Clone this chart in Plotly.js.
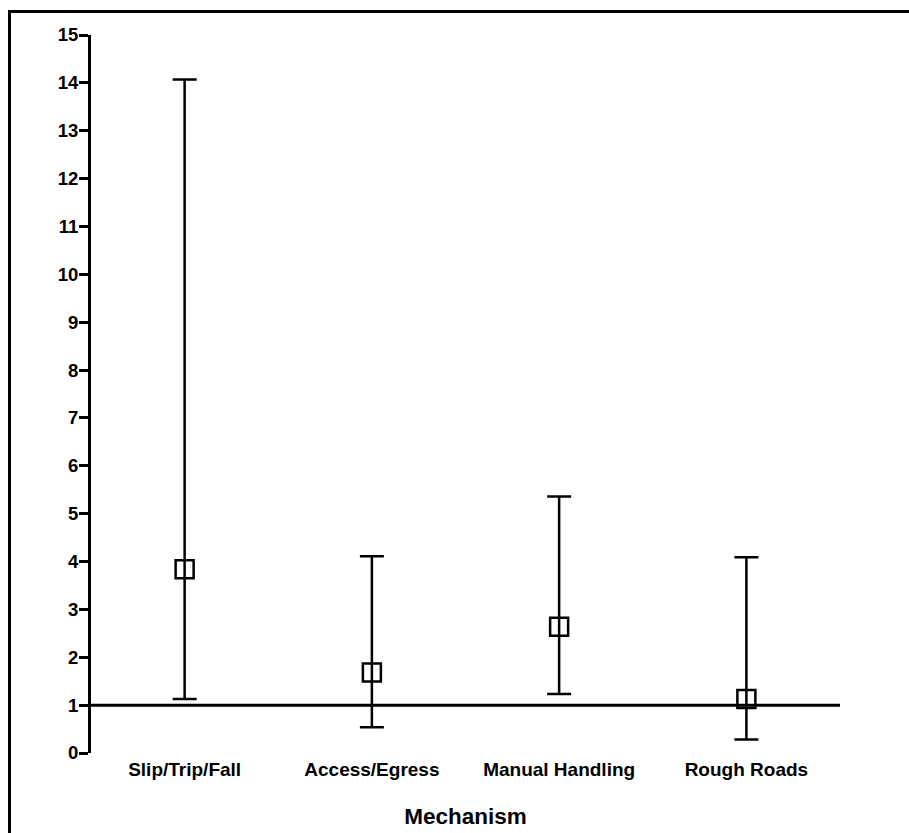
<!DOCTYPE html>
<html>
<head>
<meta charset="utf-8">
<script src="https://cdn.plot.ly/plotly-3.0.1.min.js"></script>
<style>
  html, body { margin: 0; padding: 0; background: #fff; }
  #wrap { position: relative; width: 909px; height: 833px; }
  #chart { position: absolute; left: 0; top: 0; width: 909px; height: 833px; }
  #frame { position: absolute; left: 8px; top: 10px; width: 920px; height: 840px;
           border-left: 3px solid #000; border-top: 3px solid #000; pointer-events: none; }
</style>
</head>
<body>
<div id="wrap">
  <div id="chart"></div>
  <div id="frame"></div>
</div>
<script>
const categories = ["Slip/Trip/Fall", "Access/Egress", "Manual Handling", "Rough Roads"];
const estimates  = [3.84, 1.68, 2.64, 1.13];
const lowerCI    = [1.13, 0.54, 1.23, 0.28];
const upperCI    = [14.07, 4.11, 5.36, 4.09];
const referenceValue = 1;
const yTicks = [0,1,2,3,4,5,6,7,8,9,10,11,12,13,14,15];

const xIdx = categories.map((_, i) => i);

const trace = {
  type: 'scatter',
  mode: 'markers',
  x: xIdx,
  y: estimates,
  marker: { symbol: 'square-open', size: 18, color: '#000', line: { width: 2.5, color: '#000' } },
  error_y: {
    type: 'data',
    symmetric: false,
    array: upperCI.map((u, i) => u - estimates[i]),
    arrayminus: lowerCI.map((l, i) => estimates[i] - l),
    color: '#000',
    thickness: 2.5,
    width: 12
  },
  hoverinfo: 'skip',
  showlegend: false
};

const font = { family: 'Liberation Sans, Arial, Helvetica, sans-serif', color: '#000' };

const layout = {
  width: 909,
  height: 833,
  margin: { l: 91, r: 69, t: 35, b: 80 },
  paper_bgcolor: '#fff',
  plot_bgcolor: '#fff',
  showlegend: false,
  xaxis: {
    range: [-0.5, 3.5],
    tickmode: 'array',
    tickvals: xIdx,
    ticktext: categories,
    showgrid: false,
    zeroline: false,
    showline: false,
    ticks: '',
    ticklabelstandoff: 3,
    tickfont: Object.assign({}, font, { size: 19, weight: 'bold' }),
    title: { text: 'Mechanism', font: Object.assign({}, font, { size: 22.5, weight: 'bold' }), standoff: 29 }
  },
  yaxis: {
    range: [0, 15],
    tickmode: 'array',
    tickvals: yTicks,
    ticktext: yTicks.map(String),
    showgrid: false,
    zeroline: false,
    showline: true,
    linewidth: 3,
    linecolor: '#000',
    ticks: 'outside',
    ticklen: 9,
    tickwidth: 3,
    tickcolor: '#000',
    ticklabelstandoff: -3,
    tickfont: Object.assign({}, font, { size: 18.5, weight: 'bold' })
  },
  shapes: [{
    type: 'line',
    xref: 'paper', yref: 'y',
    x0: 0, x1: 1,
    y0: referenceValue, y1: referenceValue,
    line: { color: '#000', width: 3 }
  }]
};

Plotly.newPlot('chart', [trace], layout, { displayModeBar: false, staticPlot: true });
</script>
</body>
</html>
